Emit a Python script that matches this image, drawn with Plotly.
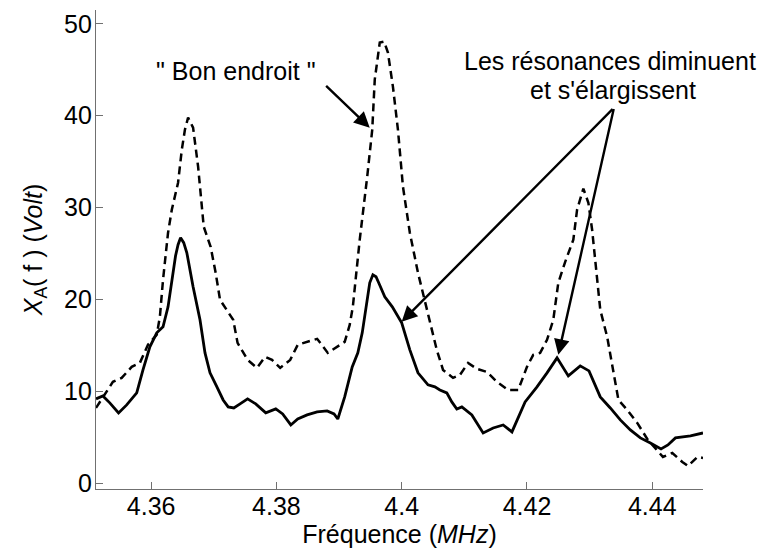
import plotly.graph_objects as go

# Solid curve ("résonances diminuent")
freq_solid = [4.3512, 4.3523, 4.3534, 4.3548, 4.3561, 4.3577, 4.3587, 4.3598, 4.3609, 4.3619,
              4.3627, 4.3635, 4.3639, 4.3643, 4.3647, 4.3652, 4.3657, 4.3667, 4.3678, 4.3686,
              4.3694, 4.3705, 4.3715, 4.3723, 4.3732, 4.3742, 4.3754, 4.3767, 4.3783, 4.3799,
              4.3810, 4.3823, 4.3834, 4.3849, 4.3865, 4.3881, 4.3892, 4.3898, 4.3909, 4.3921,
              4.3930, 4.3937, 4.3945, 4.3949, 4.3954, 4.3959, 4.3964, 4.3973, 4.3985, 4.4000,
              4.4013, 4.4026, 4.4042, 4.4053, 4.4061, 4.4072, 4.4080, 4.4088, 4.4096, 4.4112,
              4.4130, 4.4146, 4.4162, 4.4176, 4.4197, 4.4216, 4.4232, 4.4248, 4.4266, 4.4285,
              4.4299, 4.4317, 4.4333, 4.4349, 4.4365, 4.4381, 4.4397, 4.4414, 4.4425, 4.4437,
              4.4461, 4.4481]
volt_solid = [9.19, 9.51, 8.75, 7.66, 8.53, 9.84, 12.35, 14.85, 16.37, 17.02,
              19.20, 22.69, 24.76, 25.96, 26.72, 26.18, 25.09, 21.38, 17.79, 14.19,
              12.02, 10.49, 9.07, 8.31, 8.20, 8.64, 9.19, 8.64, 7.66, 8.09,
              7.55, 6.35, 7.00, 7.44, 7.77, 7.88, 7.55, 7.00, 9.40, 12.67,
              14.19, 16.37, 19.97, 21.82, 22.69, 22.47, 21.71, 20.29, 19.20, 17.46,
              14.52, 12.02, 10.71, 10.49, 10.16, 9.84, 8.86, 8.09, 8.31, 7.44,
              5.48, 6.02, 6.35, 5.59, 8.86, 10.49, 12.02, 13.65, 11.69, 12.78,
              12.23, 9.40, 8.20, 6.90, 5.81, 4.94, 4.39, 3.74, 4.17, 4.94,
              5.15, 5.48]

# Dashed curve ("Bon endroit")
freq_dash = [4.3512, 4.3523, 4.3539, 4.3553, 4.3569, 4.3582, 4.3595, 4.3609, 4.3614, 4.3619,
             4.3627, 4.3633, 4.3643, 4.3649, 4.3654, 4.3659, 4.3667, 4.3675, 4.3684, 4.3695,
             4.3703, 4.3710, 4.3723, 4.3731, 4.3738, 4.3754, 4.3769, 4.3782, 4.3793, 4.3806,
             4.3822, 4.3834, 4.3865, 4.3882, 4.3909, 4.3917, 4.3922, 4.3933, 4.3945, 4.3953,
             4.3957, 4.3965, 4.3972, 4.3978, 4.3986, 4.3994, 4.4002, 4.4013, 4.4026, 4.4042,
             4.4056, 4.4066, 4.4082, 4.4093, 4.4106, 4.4120, 4.4136, 4.4152, 4.4170, 4.4186,
             4.4200, 4.4210, 4.4221, 4.4232, 4.4242, 4.4250, 4.4261, 4.4274, 4.4280, 4.4290,
             4.4298, 4.4304, 4.4309, 4.4317, 4.4328, 4.4338, 4.4346, 4.4360, 4.4376, 4.4393,
             4.4408, 4.4417, 4.4432, 4.4448, 4.4457, 4.4472, 4.4481]
volt_dash = [8.20, 9.40, 11.04, 11.47, 12.67, 13.10, 15.07, 16.16, 18.12, 22.15,
             27.26, 29.77, 32.71, 36.31, 38.49, 39.79, 38.70, 34.45, 27.92, 25.74,
             22.91, 19.97, 18.55, 17.79, 15.28, 13.43, 12.56, 13.76, 13.43, 12.56,
             13.43, 15.07, 15.72, 14.19, 15.39, 17.24, 19.20, 26.50, 33.39, 38.49,
             43.93, 47.96, 48.07, 46.87, 43.17, 38.49, 32.28, 27.26, 22.91, 18.55,
             14.52, 12.34, 11.47, 11.80, 13.10, 12.45, 12.12, 11.04, 10.16, 10.16,
             12.67, 13.98, 14.19, 15.61, 17.79, 21.82, 24.10, 26.50, 29.77, 32.06,
             30.53, 27.59, 23.99, 18.88, 15.94, 12.34, 9.07, 7.98, 6.57, 4.72,
             3.63, 2.87, 3.30, 2.32, 1.88, 2.87, 2.76]

x_ticks = [4.36, 4.38, 4.40, 4.42, 4.44]
x_tick_labels = ["4.36", "4.38", "4.4", "4.42", "4.44"]
y_ticks = [0, 10, 20, 30, 40, 50]

FONT = "Liberation Sans, Arial, Helvetica, sans-serif"
FS = 25

fig = go.Figure()
fig.add_trace(go.Scatter(x=freq_dash, y=volt_dash, mode="lines",
                         line=dict(color="black", width=2.5, dash="8px,5px"),
                         showlegend=False, hoverinfo="skip"))
fig.add_trace(go.Scatter(x=freq_solid, y=volt_solid, mode="lines",
                         line=dict(color="black", width=2.8),
                         showlegend=False, hoverinfo="skip"))

axis_common = dict(showgrid=False, zeroline=False, showline=True, linecolor="#707070",
                   linewidth=1.2, ticks="inside", ticklen=7, tickcolor="#707070",
                   automargin=False,
                   tickfont=dict(family=FONT, size=FS, color="black"))

fig.update_xaxes(range=[4.3512, 4.4481], tickvals=x_ticks, ticktext=x_tick_labels,
                 ticklabelstandoff=-5,
                 title=dict(text="Fréquence (<i>MHz</i>)", font=dict(family=FONT, size=FS, color="black"),
                            standoff=6),
                 **axis_common)
fig.update_yaxes(range=[-0.62, 51.5], tickvals=y_ticks, ticklabelstandoff=-2,
                 title=dict(text="<i>X</i><sub>A</sub>( f ) (<i>Volt</i>)",
                            font=dict(family=FONT, size=FS, color="black"), standoff=14),
                 **axis_common)

arrow_common = dict(showarrow=True, arrowhead=2, arrowsize=1.3, arrowwidth=2.4,
                    arrowcolor="black", text="", xref="x", yref="y", axref="x", ayref="y")
fig.add_annotation(x=4.3949, y=38.70, ax=4.3877, ay=43.39, **arrow_common)
fig.add_annotation(x=4.4000, y=17.57, ax=4.4339, ay=40.88, **arrow_common)
fig.add_annotation(x=4.4250, y=13.98, ax=4.4339, ay=40.88, **arrow_common)

fig.add_annotation(x=4.3736, y=44.91, xref="x", yref="y", showarrow=False,
                   text="\" Bon endroit \"", font=dict(family=FONT, size=FS, color="black"))
fig.add_annotation(x=4.4333, y=45.93, xref="x", yref="y", showarrow=False,
                   text="Les résonances diminuent", font=dict(family=FONT, size=FS, color="black"))
fig.add_annotation(x=4.4338, y=42.84, xref="x", yref="y", showarrow=False,
                   text="et s'élargissent", font=dict(family=FONT, size=FS, color="black"))

fig.update_layout(width=769, height=551, margin=dict(l=96, r=66, t=10, b=62),
                  plot_bgcolor="white", paper_bgcolor="white")

fig.write_html("out.html", config={"displayModeBar": False},
               post_script="document.body.style.margin='0';document.body.style.overflow='hidden';")
